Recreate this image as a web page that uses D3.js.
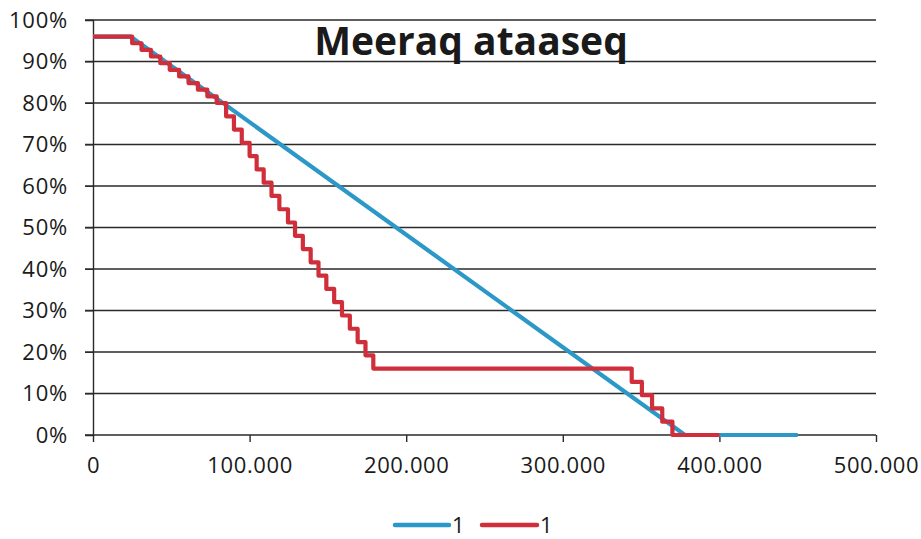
<!DOCTYPE html>
<html><head><meta charset="utf-8">
<script src="https://cdn.jsdelivr.net/npm/d3@7"></script>
<style>body{margin:0;background:#fff}svg{display:block}text{font-family:"Open Sans",sans-serif;fill:#1a1a1a}</style>
</head><body><svg id="c" width="921" height="539"></svg>
<script>
const title = "Meeraq ataaseq";
const xTicks = [0, 100000, 200000, 300000, 400000, 500000];
const yTicks = [0, 0.1, 0.2, 0.3, 0.4, 0.5, 0.6, 0.7, 0.8, 0.9, 1.0];
const seriesNames = ["1", "1"];
const blueX = [0, 24000, 378000, 450000];
const blueY = [0.96, 0.96, 0, 0];
const redX = [0, 25000, 31000, 37000, 43000, 49000, 55000, 61000, 67000, 73000, 79000,
  85000, 90000, 95000, 100000, 104500, 109000, 114000, 119000, 124500, 129000, 134000,
  139000, 144000, 149000, 154000, 159000, 164000, 169000, 174000, 179000,
  344000, 350500, 357000, 363500, 370000, 400000];
const redY = [0.96, 0.944, 0.928, 0.912, 0.896, 0.88, 0.864, 0.848, 0.832, 0.816, 0.80,
  0.768, 0.736, 0.704, 0.672, 0.64, 0.608, 0.576, 0.544, 0.512, 0.48, 0.448,
  0.416, 0.384, 0.352, 0.32, 0.288, 0.256, 0.224, 0.192, 0.16,
  0.128, 0.096, 0.064, 0.032, 0, 0];
const colors = ["#2b98c8", "#d02e3a"];

const svg = d3.select("#c");
const x = d3.scaleLinear().domain([0, 500000]).range([93, 876]);
const y = d3.scaleLinear().domain([0, 1]).range([435, 20]);

// gridlines
svg.append("g").selectAll("line").data(yTicks).join("line")
  .attr("x1", 85).attr("x2", x(500000))
  .attr("y1", d => y(d)).attr("y2", d => y(d))
  .attr("stroke", "#2a2a2a").attr("stroke-width", 1.4);

// y axis
const fmtPct = d3.format(".0%");
const yAxis = svg.append("g").attr("transform", `translate(${x(0)},0)`)
  .call(d3.axisLeft(y).tickValues(yTicks).tickFormat(fmtPct).tickSize(8).tickPadding(17));
yAxis.select(".domain").attr("stroke", "#2a2a2a").attr("stroke-width", 1.4);
yAxis.selectAll(".tick line").attr("stroke", "#2a2a2a");
yAxis.selectAll("text").style("font-size", "22px").style("letter-spacing", "0.8px").attr("fill", "#1a1a1a");

// x axis
const fmtX = d => d === 0 ? "0" : d3.format(",")(d).replace(/,/g, ".");
const xAxis = svg.append("g").attr("transform", `translate(0,${y(0)})`)
  .call(d3.axisBottom(x).tickValues(xTicks).tickFormat(fmtX).tickSize(7).tickPadding(15));
xAxis.select(".domain").remove();
xAxis.selectAll(".tick line").attr("stroke", "#2a2a2a").attr("stroke-width", 1.4);
xAxis.selectAll("text").style("font-size", "22px").style("letter-spacing", "0.6px").attr("fill", "#1a1a1a");

// lines
const blue = blueX.map((v, i) => [v, blueY[i]]);
const red = redX.map((v, i) => [v, redY[i]]);
svg.append("path").datum(blue)
  .attr("d", d3.line().x(d => x(d[0])).y(d => y(d[1])))
  .attr("fill", "none").attr("stroke", colors[0]).attr("stroke-width", 4.2);
svg.append("path").datum(red)
  .attr("d", d3.line().curve(d3.curveStepAfter).x(d => x(d[0])).y(d => y(d[1])))
  .attr("fill", "none").attr("stroke", colors[1]).attr("stroke-width", 4.2).attr("stroke-linejoin", "round");

// title
svg.append("text").attr("x", 471).attr("y", 55).attr("text-anchor", "middle")
  .style("font-size", "39px").style("font-weight", "bold").text(title);

// legend
const leg = [{x1: 395, x2: 449, tx: 452}, {x1: 482, x2: 537, tx: 540}];
leg.forEach((l, i) => {
  svg.append("line").attr("x1", l.x1).attr("x2", l.x2).attr("y1", 525).attr("y2", 525)
    .attr("stroke", colors[i]).attr("stroke-width", 4.5).attr("stroke-linecap", "round");
  svg.append("text").attr("x", l.tx).attr("y", 533).style("font-size", "22px").text(seriesNames[i]);
});
</script></body></html>
